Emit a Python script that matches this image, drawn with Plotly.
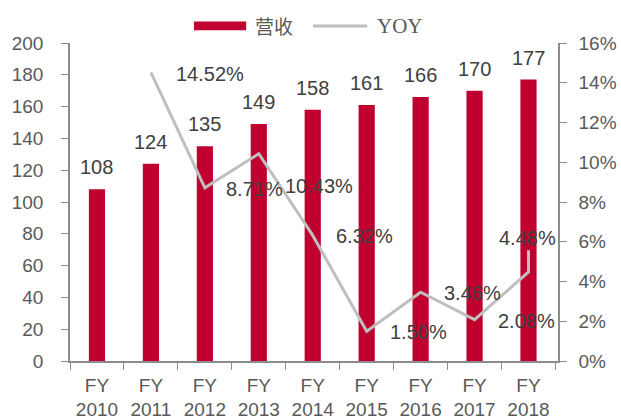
import plotly.graph_objects as go

# ---- data ----
years = ["FY 2010", "FY 2011", "FY 2012", "FY 2013", "FY 2014",
         "FY 2015", "FY 2016", "FY 2017", "FY 2018"]
tick_text = ["FY<br>2010", "FY<br>2011", "FY<br>2012", "FY<br>2013", "FY<br>2014",
             "FY<br>2015", "FY<br>2016", "FY<br>2017", "FY<br>2018"]
revenue = [108, 124, 135, 149, 158, 161, 166, 170, 177]
yoy_years = years[1:]
yoy = [14.52, 8.71, 10.43, 6.32, 1.50, 3.46, 2.08, 4.48]
yoy_tail = 5.57  # short vertical stub drawn at the end of the YOY line
yoy_labels = ["14.52%", "8.71%", "10.43%", "6.32%", "1.50%", "3.46%", "2.08%", "4.48%"]

# ---- label placement styles (category offset, pixel shifts) ----
lab_dcat = [1, 1, 1, 1, 1, 1, 1, 0]
lab_dx = [5, -4, 6, -2, -2, -2, -2, -1]
lab_dy = [-2, -1, -32, -1, -1, -1, -1, 34]

RED = "#C0002F"
GRAY_LINE = "#BFBFBF"
AXIS = "#8C8C8C"
TXT = "#404040"
TICK = "#595959"
SANS = "Liberation Sans, Arial, sans-serif"
NARROW = "Liberation Sans Narrow, Arial Narrow, Liberation Sans, sans-serif"

fig = go.Figure()
fig.add_trace(go.Bar(x=years, y=revenue, name="营收", marker_color=RED,
                     marker_line_width=0, yaxis="y"))
fig.add_trace(go.Scatter(x=yoy_years + [yoy_years[-1]], y=yoy + [yoy_tail],
                         name="YOY", mode="lines",
                         line=dict(color=GRAY_LINE, width=3), yaxis="y2"))

ann = []
for x, v in zip(years, revenue):
    ann.append(dict(x=x, y=v, xref="x", yref="y", text=str(v), showarrow=False,
                    yanchor="middle", yshift=22,
                    font=dict(family=SANS, size=20, color=TXT)))
for i, (v, t) in enumerate(zip(yoy, yoy_labels)):
    xi = years.index(yoy_years[i]) + lab_dcat[i]
    ann.append(dict(x=years[xi], y=v, xref="x", yref="y2", text=t, showarrow=False,
                    yanchor="middle", xshift=lab_dx[i], yshift=lab_dy[i],
                    font=dict(family=SANS, size=20, color=TXT)))

# custom legend
ann.append(dict(x=0.375, y=1.0535, xref="paper", yref="paper", text="营收",
                showarrow=False, xanchor="left", yanchor="middle",
                font=dict(family="Noto Sans CJK SC", size=19, color=TICK)))
ann.append(dict(x=0.625, y=1.0535, xref="paper", yref="paper", text="YOY",
                showarrow=False, xanchor="left", yanchor="middle",
                font=dict(family="Liberation Serif, Times New Roman, serif", size=21, color=TICK)))
shapes = [
    dict(type="rect", xref="paper", yref="paper", x0=0.254, x1=0.361, y0=1.040, y1=1.068,
         fillcolor=RED, line_width=0),
    dict(type="line", xref="paper", yref="paper", x0=0.498, x1=0.609, y0=1.0535, y1=1.0535,
         line=dict(color=GRAY_LINE, width=3)),
]

fig.update_layout(
    width=621, height=419,
    margin=dict(l=70, r=63, t=43, b=58),
    paper_bgcolor="white", plot_bgcolor="white",
    showlegend=False,
    bargap=0.70,
    annotations=ann, shapes=shapes,
    xaxis=dict(type="category", tickvals=years, ticktext=tick_text, automargin=False,
               tickson="boundaries", ticks="outside", ticklen=7, tickcolor=AXIS,
               showline=True, linecolor=AXIS, linewidth=1.5, showgrid=False,
               ticklabelstandoff=6,
               tickfont=dict(family=NARROW, size=19, color=TICK)),
    yaxis=dict(range=[0, 200], dtick=20, ticks="outside", ticklen=7, tickcolor=AXIS,
               showline=True, linecolor=AXIS, linewidth=1.5, showgrid=False, zeroline=False,
               ticklabelstandoff=14, automargin=False,
               tickfont=dict(family=SANS, size=19, color=TICK)),
    yaxis2=dict(range=[0, 16], dtick=2, overlaying="y", side="right", ticksuffix="%",
                ticks="outside", ticklen=7, tickcolor=AXIS, automargin=False,
                showline=True, linecolor=AXIS, linewidth=1.5, showgrid=False, zeroline=False,
                ticklabelstandoff=8,
                tickfont=dict(family=NARROW, size=19, color=TICK)),
)

fig.write_html("out.html", config={"displayModeBar": False},
               post_script="document.body.style.margin='0px';document.body.style.overflow='hidden';")
